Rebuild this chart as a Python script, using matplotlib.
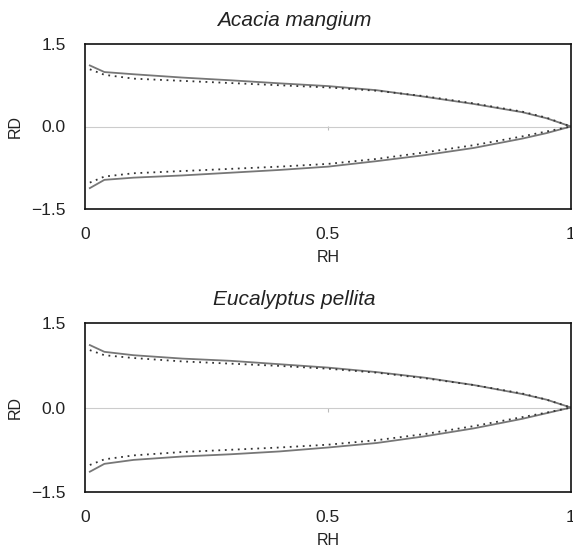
import matplotlib
matplotlib.use("Agg")
import matplotlib.pyplot as plt

plt.rcParams["font.family"] = ["Liberation Sans", "DejaVu Sans"]

# relative height along the stem
RH = [0.01, 0.04, 0.1, 0.2, 0.3, 0.4, 0.5, 0.6, 0.7, 0.8, 0.9, 0.95, 1.0]

# Acacia mangium: observed (solid) and predicted (dotted) relative diameter
ACACIA_OBS_UP = [1.11, 0.99, 0.95, 0.89, 0.84, 0.785, 0.735, 0.66, 0.54, 0.41, 0.26, 0.15, 0.0]
ACACIA_OBS_LO = [-1.12, -0.97, -0.93, -0.89, -0.84, -0.79, -0.73, -0.63, -0.52, -0.39, -0.22, -0.12, 0.0]
ACACIA_PRED_UP = [1.04, 0.94, 0.87, 0.83, 0.79, 0.75, 0.71, 0.65, 0.55, 0.42, 0.27, 0.16, 0.0]
ACACIA_PRED_LO = [-1.02, -0.91, -0.85, -0.81, -0.77, -0.73, -0.68, -0.59, -0.47, -0.34, -0.18, -0.09, 0.0]

# Eucalyptus pellita
EUCA_OBS_UP = [1.11, 0.99, 0.93, 0.87, 0.83, 0.77, 0.71, 0.63, 0.53, 0.40, 0.24, 0.14, 0.0]
EUCA_OBS_LO = [-1.14, -1.00, -0.93, -0.87, -0.83, -0.78, -0.71, -0.63, -0.51, -0.37, -0.20, -0.10, 0.0]
EUCA_PRED_UP = [1.02, 0.93, 0.88, 0.82, 0.78, 0.74, 0.69, 0.62, 0.52, 0.40, 0.25, 0.14, 0.0]
EUCA_PRED_LO = [-1.02, -0.92, -0.85, -0.79, -0.75, -0.71, -0.66, -0.58, -0.47, -0.33, -0.17, -0.09, 0.0]

PANELS = [
    ("Acacia mangium", ACACIA_OBS_UP, ACACIA_OBS_LO, ACACIA_PRED_UP, ACACIA_PRED_LO),
    ("Eucalyptus pellita", EUCA_OBS_UP, EUCA_OBS_LO, EUCA_PRED_UP, EUCA_PRED_LO),
]
X_TICKS = [0, 0.5, 1]
X_TICKLABELS = ["0", "0.5", "1"]
Y_TICKS = [-1.5, 0.0, 1.5]
Y_TICKLABELS = ["\u22121.5", "0.0", "1.5"]

fig = plt.figure(figsize=(5.73, 5.5), dpi=100)
fig.patch.set_facecolor("white")
rects = [(0.1483, 0.620, 0.848, 0.300), (0.1483, 0.1055, 0.848, 0.307)]

for rect, (name, obs_up, obs_lo, pred_up, pred_lo) in zip(rects, PANELS):
    ax = fig.add_axes(rect)
    ax.axhline(0, color="#cccccc", lw=0.8, zorder=1)
    for vals in (obs_up, obs_lo):
        ax.plot(RH, vals, color="#777777", lw=1.3, zorder=2)
    for vals in (pred_up, pred_lo):
        ax.plot(RH, vals, color="#333333", lw=1.3, ls=(0, (1, 2.6)), zorder=3)

    # small tick on the zero line at RH=0.5
    sec = ax.secondary_xaxis(0.5)
    sec.set_xticks([0.5])
    sec.tick_params(axis="x", direction="in", length=3, color="#bbbbbb",
                    labelbottom=False, labeltop=False)
    for sp in sec.spines.values():
        sp.set_visible(False)

    ax.set_xlim(0, 1)
    ax.set_ylim(-1.5, 1.5)
    ax.set_xticks(X_TICKS)
    ax.set_xticklabels(X_TICKLABELS)
    ax.set_yticks(Y_TICKS)
    ax.set_yticklabels(Y_TICKLABELS)
    ax.tick_params(length=0, labelsize=12.5, colors="#222222")
    ax.tick_params(axis="x", pad=13)
    ax.tick_params(axis="y", pad=14)
    for sp in ax.spines.values():
        sp.set_linewidth(1.2)
        sp.set_color("#111111")
    ax.set_xlabel("RH", fontsize=11.5, labelpad=6, color="#222222")
    ax.set_ylabel("RD", fontsize=11.5, labelpad=6, color="#222222")
    # title sits over the figure centre rather than the axes centre
    title = ax.set_title(name, fontsize=15, style="italic", pad=13, color="#222222")
    title.set_x((0.513 - rect[0]) / rect[2])

fig.savefig("out.png", dpi=100, facecolor="white")
